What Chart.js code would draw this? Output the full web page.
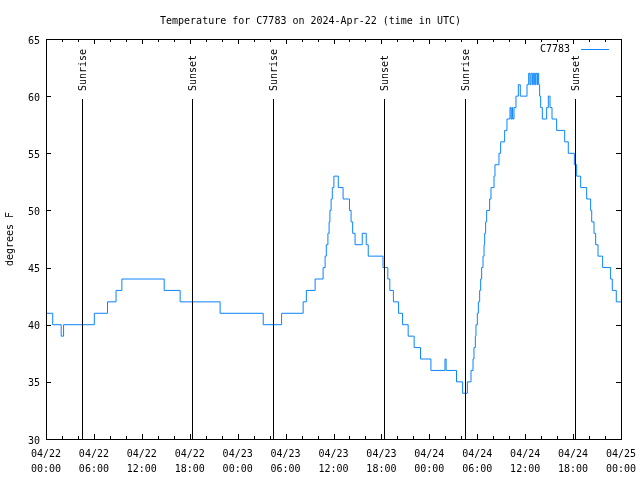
<!DOCTYPE html>
<html>
<head>
<meta charset="utf-8">
<script src="https://cdn.jsdelivr.net/npm/chart.js@4"></script>
<style>
  body { margin: 0; background: #fff; }
</style>
</head>
<body>
<canvas id="tempChart" width="640" height="480"></canvas>
<script>
// hours since 04/22 00:00 UTC where the reading changes, and the new reading (F)
const hours = [
    0, 0.84, 1.9, 2.2, 6.05, 7.7, 8.77, 9.5, 14.8, 16.8, 21.8, 27.2,
    29.5, 32.2, 32.6, 33.7, 34.7, 34.95, 35.1, 35.3, 35.45, 35.55, 35.7, 35.85,
    36.05, 36.6, 37.2, 38.0, 38.2, 38.4, 38.7, 39.6, 40.1, 40.35, 42.2, 42.8,
    43.05, 43.5, 44.15, 44.65, 45.35, 46.1, 46.9, 48.2, 49.96, 50.1, 51.4, 52.17,
    52.76, 53.22, 53.47, 53.59, 53.76, 53.84, 54.01, 54.14, 54.3, 54.43, 54.55, 54.72,
    54.85, 54.93, 55.05, 55.18, 55.55, 55.72, 56.1, 56.22, 56.72, 56.93, 57.43, 57.72,
    58.1, 58.23, 58.35, 58.43, 58.6, 58.85, 59.14, 59.39, 60.23, 60.44, 60.6, 60.73,
    60.9, 61.02, 61.19, 61.31, 61.48, 61.56, 61.69, 61.81, 61.94, 62.15, 62.69, 62.9,
    63.11, 63.36, 63.94, 64.95, 65.4, 66.16, 66.45, 66.95, 67.7, 68.2, 68.33, 68.62,
    68.83, 69.12, 69.7, 70.7, 70.91, 71.41, 72
];
const temps = [
    41, 40, 39, 40, 41, 42, 43, 44, 43, 42, 41, 40,
    41, 42, 43, 44, 45, 46, 47, 48, 49, 50, 51, 52,
    53, 52, 51, 50, 49, 48, 47, 48, 47, 46, 45, 44,
    43, 42, 41, 40, 39, 38, 37, 36, 37, 36, 35, 34,
    35, 36, 37, 38, 39, 40, 41, 42, 43, 44, 45, 46,
    47, 48, 49, 50, 51, 52, 53, 54, 55, 56, 57, 58,
    59, 58, 59, 58, 59, 60, 61, 60, 61, 62, 61, 62,
    61, 62, 61, 62, 61, 62, 61, 60, 59, 58, 59, 60,
    59, 58, 57, 56, 55, 54, 53, 52, 51, 50, 49, 48,
    47, 46, 45, 44, 43, 42, 42
];

const tickDates = ["04/22", "04/22", "04/22", "04/22", "04/23", "04/23", "04/23", "04/23", "04/24", "04/24", "04/24", "04/24", "04/25"];
const tickTimes = ["00:00", "06:00", "12:00", "18:00", "00:00", "06:00", "12:00", "18:00", "00:00", "06:00", "12:00", "18:00", "00:00"];

const eventHours = [4.5, 18.3, 28.45, 42.3, 52.45, 66.3];
const eventLabels = ["Sunrise", "Sunset", "Sunrise", "Sunset", "Sunrise", "Sunset"];

const FONT = "'DejaVu Sans Mono', 'Liberation Mono', monospace";
const LINE_COLOR = "#0a84ff";

// gnuplot look: frame, inward tics, sun lines, legend in the corner
const gnuplotDecor = {
    id: "gnuplotDecor",
    afterDatasetsDraw(chart) {
        const { ctx, chartArea: a, scales: { x, y } } = chart;
        ctx.save();
        ctx.strokeStyle = "#000";
        ctx.lineWidth = 1;
        ctx.strokeRect(a.left + 0.5, a.top + 0.5, a.right - a.left, a.bottom - a.top);

        ctx.beginPath();
        for (let h = 0; h <= 72; h += 2) {
            const px = Math.round(x.getPixelForValue(h)) + 0.5;
            const len = h % 6 === 0 ? 5 : 3;
            ctx.moveTo(px, a.bottom);
            ctx.lineTo(px, a.bottom - len);
            ctx.moveTo(px, a.top);
            ctx.lineTo(px, a.top + len);
        }
        y.ticks.forEach(t => {
            const py = Math.round(y.getPixelForValue(t.value)) + 0.5;
            ctx.moveTo(a.left, py);
            ctx.lineTo(a.left + 5, py);
            ctx.moveTo(a.right, py);
            ctx.lineTo(a.right - 5, py);
        });
        ctx.stroke();

        const h = a.bottom - a.top;
        ctx.font = "10px " + FONT;
        ctx.fillStyle = "#000";
        eventHours.forEach((t, i) => {
            const px = Math.round(x.getPixelForValue(t)) + 0.5;
            ctx.beginPath();
            ctx.moveTo(px, a.bottom);
            ctx.lineTo(px, a.bottom - 0.85 * h);
            ctx.stroke();
            ctx.save();
            ctx.translate(px + 1, a.bottom - 0.87 * h);
            ctx.rotate(-Math.PI / 2);
            ctx.textAlign = "left";
            ctx.textBaseline = "middle";
            ctx.fillText(eventLabels[i], 0, 0);
            ctx.restore();
        });

        // key
        ctx.textAlign = "right";
        ctx.textBaseline = "middle";
        ctx.fillText("C7783", a.right - 51, a.top + 10);
        ctx.strokeStyle = LINE_COLOR;
        ctx.beginPath();
        ctx.moveTo(a.right - 40, a.top + 10.5);
        ctx.lineTo(a.right - 12, a.top + 10.5);
        ctx.stroke();
        ctx.restore();
    },
};

new Chart(document.getElementById("tempChart").getContext("2d"), {
    type: "line",
    data: {
        datasets: [
            {
                label: "C7783",
                data: hours.map((h, i) => ({ x: h, y: temps[i] })),
                borderColor: LINE_COLOR,
                borderWidth: 1,
                pointRadius: 0,
                stepped: true,
                fill: false,
            },
        ],
    },
    options: {
        responsive: false,
        animation: false,
        layout: { padding: { left: 0, right: 19, top: 0, bottom: 0 } },
        plugins: {
            legend: { display: false },
            tooltip: { enabled: false },
            title: {
                display: true,
                text: "Temperature for C7783 on 2024-Apr-22 (time in UTC)",
                color: "#000",
                font: { family: FONT, size: 10, weight: "normal" },
                padding: { top: 15, bottom: 12 },
            },
        },
        scales: {
            x: {
                type: "linear",
                min: 0,
                max: 72,
                grid: { display: false, drawTicks: false },
                border: { display: false },
                ticks: {
                    stepSize: 6,
                    autoSkip: false,
                    maxRotation: 0,
                    padding: 8,
                    color: "#000",
                    font: { family: FONT, size: 10, lineHeight: 1.5 },
                    callback: v => [tickDates[v / 6], tickTimes[v / 6]],
                },
                afterFit(s) {
                    s.height = 41;
                    s.paddingLeft = 0;
                    s.paddingRight = 0;
                },
            },
            y: {
                min: 30,
                max: 65,
                grid: { display: false, drawTicks: false },
                border: { display: false },
                ticks: {
                    stepSize: 5,
                    padding: 6,
                    labelOffset: 2,
                    color: "#000",
                    font: { family: FONT, size: 10 },
                },
                title: {
                    display: true,
                    text: "degrees F",
                    color: "#000",
                    font: { family: FONT, size: 10 },
                    padding: { top: 4, bottom: 0 },
                },
                afterFit(s) {
                    s.width = 46;
                    s.paddingTop = 0;
                    s.paddingBottom = 0;
                },
            },
        },
    },
    plugins: [gnuplotDecor],
});
</script>
</body>
</html>
